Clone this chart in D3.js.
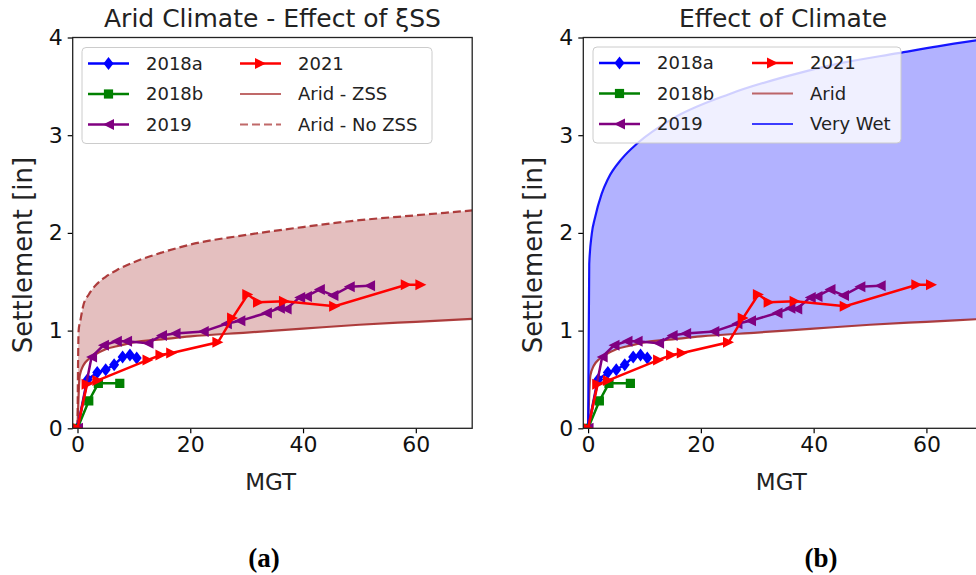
<!DOCTYPE html>
<html>
<head>
<meta charset="utf-8">
<script src="https://cdn.jsdelivr.net/npm/d3@7"></script>
<style>
  body { margin: 0; background: #fff; }
  svg { display: block; font-family: 'DejaVu Sans', sans-serif; }
</style>
</head>
<body>
<script>
// Field measurements (MGT vs settlement in inches)
const mgt2018a = [0, 1.8, 3.5, 5, 6.5, 8, 9.3, 10.5];
const set2018a = [0, 0.5, 0.57, 0.6, 0.65, 0.73, 0.75, 0.72];

const mgt2018b = [0, 2.0, 3.7, 7.5];
const set2018b = [0, 0.28, 0.46, 0.46];

const mgt2019 = [0, 2.5, 4.6, 6.9, 8.7, 12.5, 14.9, 17.3, 22.3, 26.4, 28.8, 33.5, 35.8, 37.0, 39.4, 40.6, 42.9, 45.3, 48.2, 51.8];
const set2019 = [0, 0.73, 0.85, 0.89, 0.89, 0.87, 0.95, 0.97, 0.99, 1.07, 1.10, 1.18, 1.23, 1.22, 1.34, 1.35, 1.42, 1.36, 1.45, 1.46];

const mgt2021 = [0, 1.7, 3.6, 12.5, 14.8, 16.7, 24.9, 27.5, 30.2, 32.1, 36.7, 45.6, 58.3, 60.9];
const set2021 = [0, 0.45, 0.49, 0.70, 0.75, 0.77, 0.88, 1.13, 1.37, 1.29, 1.30, 1.25, 1.47, 1.47];

// Model curves
const mgtZss = [0, 0.4, 1, 2, 3, 5, 7, 10, 15, 20, 30, 40, 50, 60, 70];
const setZss = [0, 0.54, 0.64, 0.71, 0.75, 0.81, 0.84, 0.88, 0.91, 0.94, 0.98, 1.02, 1.06, 1.09, 1.12];

const mgtNoZss = [0, 0.2, 0.5, 1, 2, 3, 5, 7, 10, 15, 20, 30, 40, 50, 60, 70];
const setNoZss = [0, 1.0, 1.1, 1.25, 1.37, 1.45, 1.55, 1.62, 1.70, 1.80, 1.88, 1.98, 2.06, 2.13, 2.18, 2.23];

const mgtWet = [0, 0.2, 0.65, 1.2, 2.4, 3.5, 6, 8.8, 15, 25, 35, 45, 55, 62, 70];
const setWet = [0, 1.68, 1.99, 2.15, 2.4, 2.55, 2.76, 2.92, 3.17, 3.42, 3.6, 3.74, 3.84, 3.91, 3.98];

const xTicks = [0, 20, 40, 60];
const yTicks = [0, 1, 2, 3, 4];

const zip = (xs, ys) => xs.map((v, i) => [v, ys[i]]);

const series = [
  { name: '2018a', pts: zip(mgt2018a, set2018a), color: '#0000ff', marker: 'D' },
  { name: '2018b', pts: zip(mgt2018b, set2018b), color: '#008000', marker: 's' },
  { name: '2019', pts: zip(mgt2019, set2019), color: '#800080', marker: '<' },
  { name: '2021', pts: zip(mgt2021, set2021), color: '#ff0000', marker: '>' }
];

function markerPath(type) {
  switch (type) {
    case 'D': return 'M0,-6.5L5,0L0,6.5L-5,0Z';
    case 's': return 'M-4.6,-4.6H4.6V4.6H-4.6Z';
    case '<': return 'M-5.5,0L5.5,-5.5L5.5,5.5Z';
    default: return 'M5.5,0L-5.5,-5.5L-5.5,5.5Z';
  }
}

const svg = d3.select('body')
  .append('svg')
  .attr('width', 976)
  .attr('height', 575);

const plotW = 399.5;
const plotTop = 37.5;
const plotBottom = 428.3;

function drawPanel(cfg) {
  const x = d3.scaleLinear().domain([-0.85, 70]).range([cfg.left, cfg.left + plotW]);
  const y = d3.scaleLinear().domain([0, 4]).range([plotBottom, plotTop]);

  const g = svg.append('g');

  g.append('clipPath')
    .attr('id', 'clip-' + cfg.id)
    .append('rect')
    .attr('x', cfg.left)
    .attr('y', plotTop)
    .attr('width', plotW)
    .attr('height', plotBottom - plotTop);

  const plot = g.append('g').attr('clip-path', `url(#clip-${cfg.id})`);

  const line = d3.line()
    .x(d => x(d[0]))
    .y(d => y(d[1]));
  const smooth = d3.line()
    .x(d => x(d[0]))
    .y(d => y(d[1]))
    .curve(d3.curveMonotoneX);

  // shaded band between two model curves
  const upper = smooth(cfg.band.upper);
  const lower = smooth(cfg.band.lower.slice().reverse());
  plot.append('path')
    .attr('d', upper + 'L' + lower.slice(1) + 'Z')
    .attr('fill', cfg.band.color)
    .attr('fill-opacity', 0.3);

  cfg.curves.forEach(c => {
    plot.append('path')
      .attr('d', smooth(c.pts))
      .attr('fill', 'none')
      .attr('stroke', c.color)
      .attr('stroke-opacity', c.opacity)
      .attr('stroke-width', 2.2)
      .attr('stroke-dasharray', c.dash || null);
  });

  // field data
  series.forEach(s => {
    plot.append('path')
      .attr('d', line(s.pts))
      .attr('fill', 'none')
      .attr('stroke', s.color)
      .attr('stroke-width', 2.5);
    plot.selectAll(null)
      .data(s.pts)
      .enter()
      .append('path')
      .attr('d', markerPath(s.marker))
      .attr('transform', d => `translate(${x(d[0])},${y(d[1])})`)
      .attr('fill', s.color);
  });

  // axes
  const xAxis = g.append('g')
    .attr('transform', `translate(0,${plotBottom})`)
    .call(d3.axisBottom(x).tickValues(xTicks).tickSize(5).tickPadding(3));
  const yAxis = g.append('g')
    .attr('transform', `translate(${cfg.left},0)`)
    .call(d3.axisLeft(y).tickValues(yTicks).tickFormat(d3.format('d')).tickSize(5).tickPadding(5));
  [xAxis, yAxis].forEach(a => {
    a.select('.domain').remove();
    a.selectAll('.tick line').attr('stroke', '#000').attr('stroke-width', 1.2);
    a.selectAll('.tick text')
      .attr('fill', '#111')
      .style('font-family', 'DejaVu Sans')
      .style('font-size', '22px');
  });

  g.append('rect')
    .attr('x', cfg.left)
    .attr('y', plotTop)
    .attr('width', plotW)
    .attr('height', plotBottom - plotTop)
    .attr('fill', 'none')
    .attr('stroke', '#222')
    .attr('stroke-width', 1.3);

  // labels
  g.append('text')
    .attr('x', cfg.left + plotW / 2)
    .attr('y', 27)
    .attr('text-anchor', 'middle')
    .style('font-size', '25px')
    .attr('fill', '#222')
    .text(cfg.title);

  g.append('text')
    .attr('x', cfg.left + 198)
    .attr('y', 490)
    .attr('text-anchor', 'middle')
    .style('font-size', '23px')
    .attr('fill', '#222')
    .text('MGT');

  g.append('text')
    .attr('transform', `translate(${cfg.left - 50},255) rotate(-90)`)
    .attr('text-anchor', 'middle')
    .attr('dy', '0.35em')
    .style('font-size', '26px')
    .attr('fill', '#222')
    .text('Settlement [in]');

  g.append('text')
    .attr('x', cfg.capX)
    .attr('y', 567)
    .attr('text-anchor', 'middle')
    .style('font-family', "'Liberation Serif', serif")
    .style('font-weight', 'bold')
    .style('font-size', '27px')
    .text(cfg.caption);

  // legend
  const leg = g.append('g').attr('transform', `translate(${cfg.leg.x},${cfg.leg.y})`);
  leg.append('rect')
    .attr('width', cfg.leg.w)
    .attr('height', 96)
    .attr('rx', 4)
    .attr('fill', '#fff')
    .attr('fill-opacity', 0.8)
    .attr('stroke', '#cccccc');

  cfg.legend.forEach((e, i) => {
    const col = Math.floor(i / 3);
    const row = i % 3;
    const hx = 6 + col * cfg.leg.colW;
    const cy = 16 + row * 30.5;
    leg.append('line')
      .attr('x1', hx)
      .attr('x2', hx + 41)
      .attr('y1', cy)
      .attr('y2', cy)
      .attr('stroke', e.color)
      .attr('stroke-opacity', e.opacity || 1)
      .attr('stroke-width', e.marker ? 2.5 : 2.2)
      .attr('stroke-dasharray', e.dash || null);
    if (e.marker) {
      leg.append('path')
        .attr('d', markerPath(e.marker))
        .attr('transform', `translate(${hx + 20.5},${cy})`)
        .attr('fill', e.color);
    }
    leg.append('text')
      .attr('x', hx + 58)
      .attr('y', cy)
      .attr('dy', '0.36em')
      .style('font-size', '18px')
      .attr('fill', '#222')
      .text(e.label);
  });
}

const dataLegend = series.map(s => ({ label: s.name, color: s.color, marker: s.marker }));

drawPanel({
  id: 'a',
  left: 72.7,
  title: 'Arid Climate - Effect of ξSS',
  caption: '(a)',
  capX: 264,
  band: { upper: zip(mgtNoZss, setNoZss), lower: zip(mgtZss, setZss), color: '#a52a2a' },
  curves: [
    { pts: zip(mgtZss, setZss), color: '#a52a2a', opacity: 0.9 },
    { pts: zip(mgtNoZss, setNoZss), color: '#a52a2a', opacity: 0.9, dash: '8,4' }
  ],
  leg: { x: 82, y: 47.5, w: 350, colW: 152 },
  legend: [
    dataLegend[0], dataLegend[1], dataLegend[2], dataLegend[3],
    { label: 'Arid - ZSS', color: '#a52a2a', opacity: 0.7 },
    { label: 'Arid - No ZSS', color: '#a52a2a', opacity: 0.7, dash: '8,4' }
  ]
});

drawPanel({
  id: 'b',
  left: 583.3,
  title: 'Effect of Climate',
  caption: '(b)',
  capX: 821,
  band: { upper: zip(mgtWet, setWet), lower: zip(mgtZss, setZss), color: '#0000ff' },
  curves: [
    { pts: zip(mgtZss, setZss), color: '#a52a2a', opacity: 0.9 },
    { pts: zip(mgtWet, setWet), color: '#0000ff', opacity: 0.9 }
  ],
  leg: { x: 593, y: 47, w: 308, colW: 153 },
  legend: [
    dataLegend[0], dataLegend[1], dataLegend[2], dataLegend[3],
    { label: 'Arid', color: '#a52a2a', opacity: 0.7 },
    { label: 'Very Wet', color: '#0000ff', opacity: 0.75 }
  ]
});
</script>
</body>
</html>
